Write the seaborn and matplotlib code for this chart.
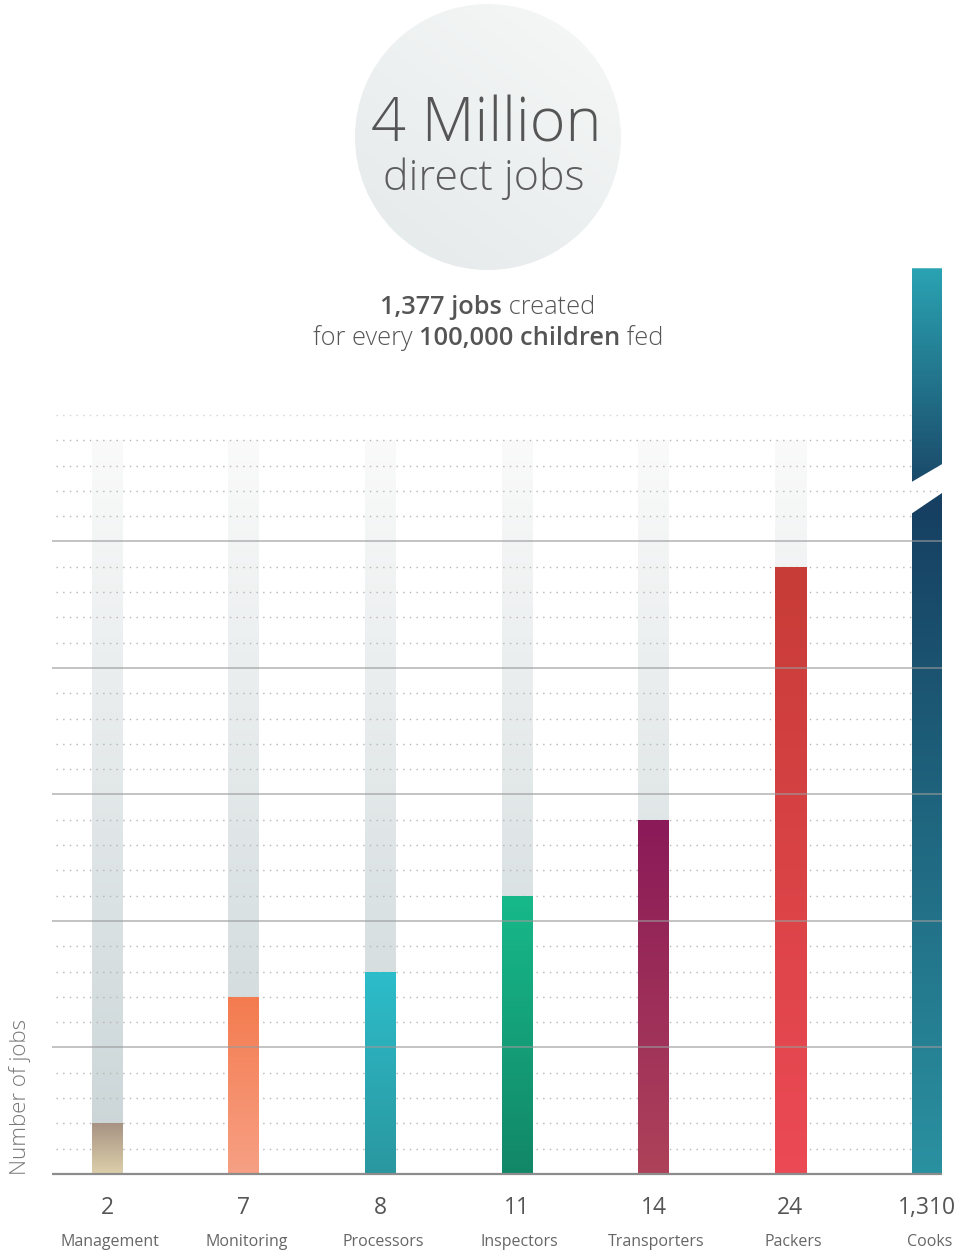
import numpy as np
import matplotlib
matplotlib.use("Agg")
import matplotlib.pyplot as plt
import matplotlib.colors as mcolors
import matplotlib.transforms as mtransforms
from matplotlib.patches import Circle, Polygon
import seaborn as sns

# data
categories = ["Management", "Monitoring", "Processors", "Inspectors",
              "Transporters", "Packers", "Cooks"]
jobs = [2, 7, 8, 11, 14, 24, 1310]
track_top = 29          # height of the pale "track" behind each small bar
break_cap = 35.8        # where the broken Cooks bar is cut off on the scale

bar_colors = [("#a89383", "#ddd0ab"),
              ("#f47b4f", "#f7a084"),
              ("#2dbdcb", "#2a979f"),
              ("#17b98a", "#128768"),
              ("#8a1a58", "#ae425a"),
              ("#c73c37", "#ec4a55")]
cooks_stops = [(0, "#2a91a1"), (26.5, "#163f61"), (27.4, "#1b4a6a"), (35.8, "#2aa3b2")]

sns.set_theme(style="white")
plt.rcParams["font.family"] = ["Open Sans", "DejaVu Sans"]
plt.rcParams["lines.scale_dashes"] = False

W, H = 963, 1254
fig = plt.figure(figsize=(W / 100, H / 100), dpi=100)

# pixel overlay for the header
top = fig.add_axes([0, 0, 1, 1])
top.axis("off")

# circle with a soft gradient
cx, cy, r = 488, 137, 133
gx, gy = np.meshgrid(np.linspace(0, 1, 200), np.linspace(0, 1, 200))
t = np.clip((gx * -0.6 + gy * 0.8 + 0.6) / 1.4, 0, 1)
c1, c2 = np.array(mcolors.to_rgb("#f7f8f8")), np.array(mcolors.to_rgb("#e4e9e9"))
img = c1 * (1 - t[..., None]) + c2 * t[..., None]
circ = Circle((cx, cy), r, facecolor="none", edgecolor="none")
top.add_patch(circ)
im = top.imshow(img, extent=[cx - r, cx + r, cy + r, cy - r], aspect="auto", zorder=1)
im.set_clip_path(circ)
top.set_xlim(0, W)
top.set_ylim(H, 0)

top.text(486, 142, "4 Million", ha="center", va="baseline", fontsize=44,
         fontweight="light", color="#555555", zorder=3)
top.text(484, 190, "direct jobs", ha="center", va="baseline", fontsize=31,
         fontweight="light", color="#5c5c5c", zorder=3)


# subtitle with mixed weights
def mixed_line(y, pieces, size):
    renderer = fig.canvas.get_renderer()
    arts = []
    for txt, wt in pieces:
        a = top.text(0, y, txt, fontsize=size, fontweight=wt, color="#555555",
                     ha="left", va="baseline")
        arts.append(a)
    widths = [a.get_window_extent(renderer).width for a in arts]
    x = 488 - sum(widths) / 2
    for a, w in zip(arts, widths):
        a.set_x(x)
        x += w


mixed_line(314, [("1,377 jobs", "semibold"), (" created", "light")], 18.3)
mixed_line(345, [("for every ", "light"), ("100,000 children", "semibold"),
                 (" fed", "light")], 18.3)

# main chart
ax = fig.add_axes([52 / W, (H - 1176) / H, 890 / W, (1176 - 260) / H])
ax.patch.set_alpha(0)
bw = 31 / 136.67

shown = [min(v, break_cap) for v in jobs]

sns.barplot(x=categories[:6], y=[track_top] * 6, width=bw, color="#dddddd",
            ax=ax, zorder=1, order=categories)
n_track = len(ax.patches)
sns.barplot(x=categories, y=shown, width=bw, color="#888888", ax=ax, zorder=3,
            order=categories)
track_patches = ax.patches[:n_track]
bar_patches = ax.patches[n_track:]


def grad_fill(patch, col_top, col_bot, zorder):
    x0, y0 = patch.get_x(), patch.get_y()
    w, h = patch.get_width(), patch.get_height()
    a, b = np.array(mcolors.to_rgb(col_top)), np.array(mcolors.to_rgb(col_bot))
    s = np.linspace(0, 1, 256)[:, None, None]
    arr = a * (1 - s) + b * s
    im = ax.imshow(arr, extent=[x0, x0 + w, y0, y0 + h], aspect="auto",
                   origin="upper", zorder=zorder, interpolation="bilinear")
    im.set_clip_path(patch)
    patch.set_facecolor("none")
    patch.set_edgecolor("none")


for p in track_patches:
    grad_fill(p, "#fafafa", "#c9d4d6", 1)

for p, (ct, cb) in zip(bar_patches[:6], bar_colors):
    grad_fill(p, ct, cb, 3)

# broken Cooks bar: two clipped pieces
cp = bar_patches[6]
x0, w, h = cp.get_x(), cp.get_width(), cp.get_height()
x1 = x0 + w
ys = np.linspace(h, 0, 512)
sy, sc = zip(*cooks_stops)
rgb = np.array([mcolors.to_rgb(c) for c in sc])
arr = np.stack([np.interp(ys, sy, rgb[:, k]) for k in range(3)], axis=-1)[:, None, :]
lower = Polygon([(x0, 0), (x1, 0), (x1, 26.93), (x0, 26.1)], closed=True,
                facecolor="none", edgecolor="none")
upper = Polygon([(x0, 27.35), (x1, 28.07), (x1, h), (x0, h)], closed=True,
                facecolor="none", edgecolor="none")
for poly in (lower, upper):
    ax.add_patch(poly)
    im = ax.imshow(arr, extent=[x0, x1, 0, h], aspect="auto", origin="upper",
                   zorder=3, interpolation="bilinear")
    im.set_clip_path(poly)
cp.set_facecolor("none")
cp.set_edgecolor("none")

# grid: dotted every job, solid every five
for yv in range(1, 31):
    if yv % 5 == 0 and yv < 30:
        ax.axhline(yv, color="#9a9a9a", lw=1.1, alpha=0.75, zorder=4)
    else:
        ax.axhline(yv, xmin=0.004, color="#b5b5b5", lw=1.0,
                   ls=(0, (1.0, 3.8)), zorder=2,
                   alpha=0.6 if yv == 30 else 1.0)
ax.axhline(0, color="#8c8c8c", lw=1.6, zorder=5)

ax.set_xlim((52 - 107) / 136.67, (942 - 107) / 136.67)
ax.set_ylim(-0.08, (1174 - 260) / 25.3)
ax.axis("off")

# labels under the bars
tr = mtransforms.blended_transform_factory(ax.transData, fig.transFigure)
for i, (cat, v) in enumerate(zip(categories, jobs)):
    ax.text(i, (H - 1208) / H, f"{v:,}", transform=tr, ha="center", va="center",
            fontsize=16.5, color="#555555")
    ax.text(i + 0.02, (H - 1242) / H, cat, transform=tr, ha="center", va="center",
            fontsize=11.5, color="#666666")

fig.text(20 / W, (H - 1175) / H, "Number of jobs", rotation=90, ha="center",
         va="bottom", fontsize=16, fontweight="light", color="#777777")

fig.savefig("out.png", dpi=100)
